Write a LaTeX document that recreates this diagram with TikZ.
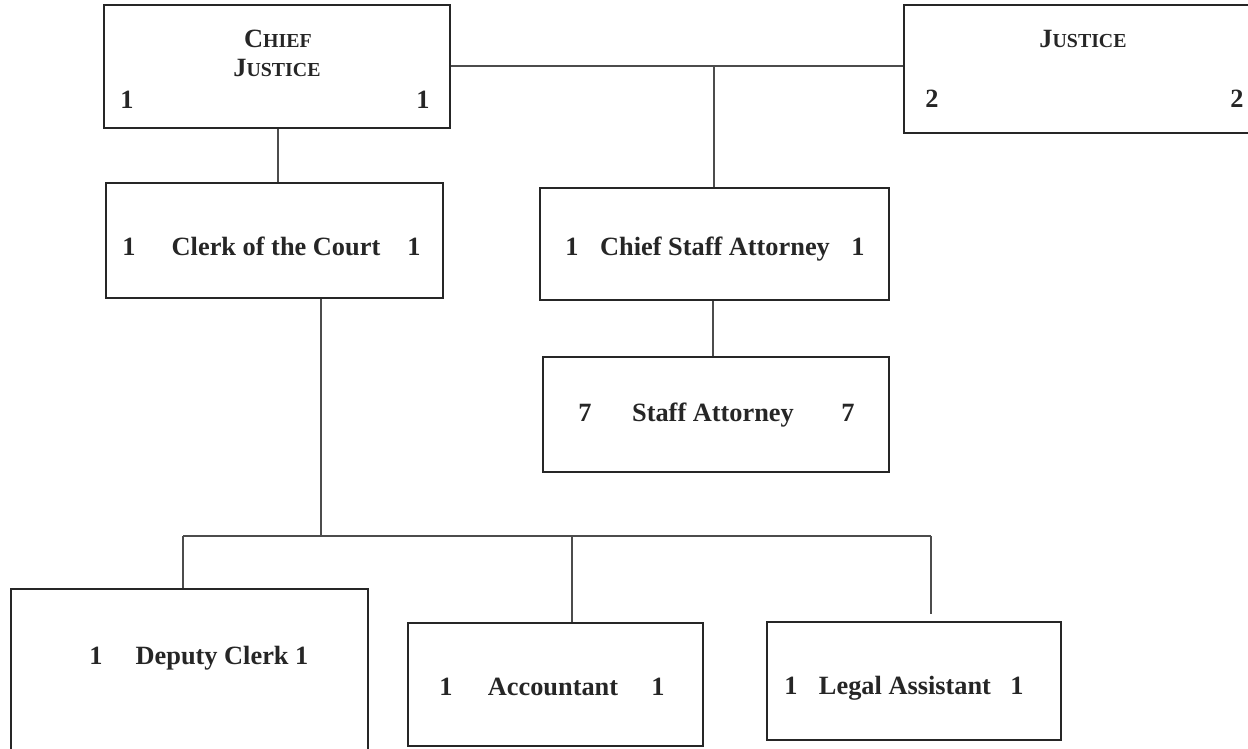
\documentclass[tikz,border=0pt]{standalone}
\usepackage{fontspec}
\setmainfont{Liberation Serif}
\usetikzlibrary{positioning}

% fake small caps: big first letter, smaller rest
\newcommand{\scword}[2]{#1{\fontsize{11.3}{13}\selectfont #2}}

\tikzset{
  box/.style args={#1x#2}{draw=black!85, line width=1.1pt, minimum width=#1*0.02cm, minimum height=#2*0.02cm, inner sep=0pt},
  txt/.style={font=\fontsize{15}{17}\selectfont\bfseries, text=black!85, anchor=base, inner sep=0pt},
  link/.style={draw=black!70, line width=0.6pt}
}

\begin{document}
\begin{tikzpicture}[x=0.02cm, y=-0.02cm]
      \useasboundingbox (0,0) rectangle (1248,749);

      % boxes
      \node[box=346x123] (cj) at (277,66.5) {};
      \node[box=348x128] (jus) at (1078,69) {};
      \node[box=337x115] (clerk) at (274.5,240.5) {};
      \node[box=349x112] (csa) at (714.5,244) {};
      \node[box=346x115] (sa) at (716,414.5) {};
      \node[box=357x166] (dep) at (189.5,672) {};
      \node[box=295x123] (acc) at (555.5,684.5) {};
      \node[box=294x118] (la) at (914,681) {};

      % texts
      \node[txt] (cjA) at (278,48) {\scword{C}{HIEF}};
      \node[txt] (cjB) at (277,77) {\scword{J}{USTICE}};
      \node[txt] (cjL) at (127,109) {1};
      \node[txt] (cjR) at (423,109) {1};

      \node[txt] (jusA) at (1083,48) {\scword{J}{USTICE}};
      \node[txt] (jusL) at (932,108) {2};
      \node[txt] (jusR) at (1237,108) {2};

      \node[txt] (clerkL) at (129,256) {1};
      \node[txt] (clerkT) at (276,256) {Clerk of the Court};
      \node[txt] (clerkR) at (414,256) {1};

      \node[txt] (csaL) at (572,256) {1};
      \node[txt] (csaT) at (715,256) {Chief Staff Attorney};
      \node[txt] (csaR) at (858,256) {1};

      \node[txt] (saL) at (585,422) {7};
      \node[txt] (saT) at (713,422) {Staff Attorney};
      \node[txt] (saR) at (848,422) {7};

      \node[txt] (depL) at (96,664) {1};
      \node[txt] (depT) at (222,664) {Deputy Clerk 1};

      \node[txt] (accL) at (446,696) {1};
      \node[txt] (accT) at (553,696) {Accountant};
      \node[txt] (accR) at (658,696) {1};

      \node[txt] (laL) at (791,695) {1};
      \node[txt] (laT) at (905,695) {Legal Assistant};
      \node[txt] (laR) at (1017,695) {1};

      % connectors
      \coordinate (topbus) at (714,66);
      \draw[link] (cj.east |- topbus) -- (jus.west |- topbus);
      \draw[link] (topbus) -- (topbus |- csa.north);
      \draw[link] (cj.south -| 278,0) -- (clerk.north -| 278,0);
      \draw[link] (csa.south -| 713,0) -- (sa.north -| 713,0);

      \coordinate (bus) at (321,536);
      \coordinate (busL) at (183,536);
      \coordinate (busM) at (572,536);
      \coordinate (busR) at (931,536);
      \draw[link] (clerk.south -| bus) -- (bus);
      \draw[link] (busL) -- (busR);
      \draw[link] (busL) -- (busL |- dep.north);
      \draw[link] (busM) -- (busM |- acc.north);
      \draw[link, shorten >=0.14cm] (busR) -- (busR |- la.north);

    \end{tikzpicture}
\end{document}
